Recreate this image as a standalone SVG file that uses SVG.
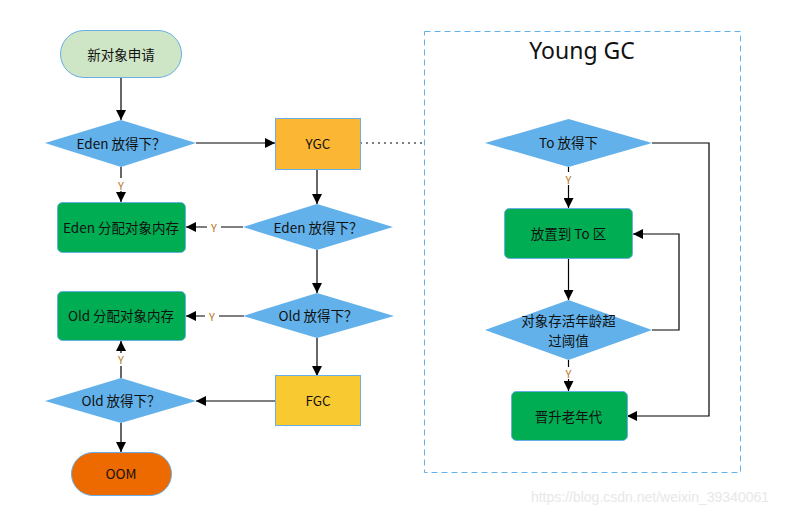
<svg xmlns="http://www.w3.org/2000/svg" width="794" height="516" viewBox="0 0 794 516">
<style>
text{font-family:"Noto Sans CJK SC","Liberation Sans",sans-serif;font-size:13.5px;fill:#111;text-anchor:middle;dominant-baseline:central}
.dia{fill:#62b1ea;stroke:none}
.grn{fill:#00ad52;stroke:#6aaee6;stroke-width:1}
.ln{fill:none;stroke:#000;stroke-width:1.2}
.y{font-size:11px;fill:#b8741a}
</style>
<defs>
<marker id="ah" viewBox="0 0 10 10" refX="10" refY="5" markerWidth="10" markerHeight="10" markerUnits="userSpaceOnUse" orient="auto">
<path d="M0,0 L10,5 L0,10 Z" fill="#000"/>
</marker>
</defs>
<rect width="794" height="516" fill="#fff"/>
<g id="youngbox">
<rect x="424.5" y="31.5" width="316" height="441" fill="none" stroke="#62b1ea" stroke-width="1" stroke-dasharray="6,4"/>
<text x="582" y="50" style="font-size:23px;font-family:'Noto Sans','Liberation Sans',sans-serif">Young GC</text>
</g>
<g id="connectors">
<path class="ln" d="M121,78 V120" marker-end="url(#ah)"/>
<path class="ln" d="M196,143 H275" marker-end="url(#ah)"/>
<path d="M360,143 H424" stroke="#000" stroke-width="1" stroke-dasharray="2,4" fill="none"/>
<path class="ln" d="M121,167 V202" marker-end="url(#ah)"/>
<path class="ln" d="M317,169 V204" marker-end="url(#ah)"/>
<path class="ln" d="M243,227 H186" marker-end="url(#ah)"/>
<path class="ln" d="M317,250 V293" marker-end="url(#ah)"/>
<path class="ln" d="M244,316 H186" marker-end="url(#ah)"/>
<path class="ln" d="M317,338 V376" marker-end="url(#ah)"/>
<path class="ln" d="M275,401 H196" marker-end="url(#ah)"/>
<path class="ln" d="M121,378 V341" marker-end="url(#ah)"/>
<path class="ln" d="M121,423 V452" marker-end="url(#ah)"/>
<path class="ln" d="M568.5,167 V208" marker-end="url(#ah)"/>
<path class="ln" d="M568.5,259 V300" marker-end="url(#ah)"/>
<path class="ln" d="M568.5,360 V391" marker-end="url(#ah)"/>
<path class="ln" d="M652,330 H679 V234 H633" marker-end="url(#ah)"/>
<path class="ln" d="M652,143 H709 V416 H627" marker-end="url(#ah)"/>
<rect x="114" y="178" width="14" height="13" fill="#fff"/>
<text class="y" x="121" y="185">Y</text>
<rect x="207" y="220" width="14" height="13" fill="#fff"/>
<text class="y" x="214" y="227">Y</text>
<rect x="205" y="309" width="14" height="13" fill="#fff"/>
<text class="y" x="212" y="316">Y</text>
<rect x="114" y="353" width="14" height="13" fill="#fff"/>
<text class="y" x="121" y="359">Y</text>
<rect x="561" y="172" width="14" height="13" fill="#fff"/>
<text class="y" x="568.5" y="179">Y</text>
<rect x="561" y="367" width="14" height="12" fill="#fff"/>
<text class="y" x="568.5" y="373">Y</text>
</g>
<g id="start">
<rect x="60.5" y="30.5" width="121" height="47" rx="23.5" fill="#cee6c6" stroke="#6aaee6"/>
<text x="121" y="54">新对象申请</text>
</g>
<g id="d_eden1">
<polygon class="dia" points="45,143 121,120 196,143 121,167"/>
<text x="121" y="143">Eden 放得下？</text>
</g>
<g id="ygc">
<rect x="275.5" y="118.5" width="85" height="51" fill="#fbb734" stroke="#6aaee6"/>
<text x="318" y="143">YGC</text>
</g>
<g id="d_eden2">
<polygon class="dia" points="243,227 317,204 393,227 317,250"/>
<text x="318" y="227">Eden 放得下？</text>
</g>
<g id="eden_alloc">
<rect class="grn" x="57.5" y="202.5" width="128" height="50" rx="5"/>
<text x="121" y="227">Eden 分配对象内存</text>
</g>
<g id="d_old1">
<polygon class="dia" points="243,316 317,293 394,316 317,338"/>
<text x="318" y="315">Old 放得下？</text>
</g>
<g id="old_alloc">
<rect class="grn" x="57.5" y="291.5" width="128" height="49" rx="5"/>
<text x="121" y="315">Old 分配对象内存</text>
</g>
<g id="fgc">
<rect x="275.5" y="375.5" width="85" height="50" fill="#f9c932" stroke="#6aaee6"/>
<text x="318" y="400">FGC</text>
</g>
<g id="d_old2">
<polygon class="dia" points="45,401 121,378 196,401 121,423"/>
<text x="121" y="400">Old 放得下？</text>
</g>
<g id="oom">
<rect x="71.5" y="452.5" width="100" height="43" rx="21.5" fill="#ec6a00" stroke="#6aaee6"/>
<text x="121" y="473">OOM</text>
</g>
<g id="d_to">
<polygon class="dia" points="485,143 568.5,119 652,143 568.5,167"/>
<text x="568.5" y="142">To 放得下</text>
</g>
<g id="to_area">
<rect class="grn" x="504.5" y="208.5" width="128" height="50" rx="5"/>
<text x="568.5" y="233">放置到 To 区</text>
</g>
<g id="d_age">
<polygon class="dia" points="485,330 568.5,300 652,330 568.5,360"/>
<text x="568.5" y="320">对象存活年龄超</text>
<text x="568.5" y="340">过阈值</text>
</g>
<g id="promote">
<rect class="grn" x="511.5" y="391.5" width="116" height="49" rx="5"/>
<text x="568.5" y="416">晋升老年代</text>
</g>
<text x="650" y="497" style="font-size:14px;fill:#e8e8e8;font-family:'Liberation Sans',sans-serif">https://blog.csdn.net/weixin_39340061</text>
</svg>
